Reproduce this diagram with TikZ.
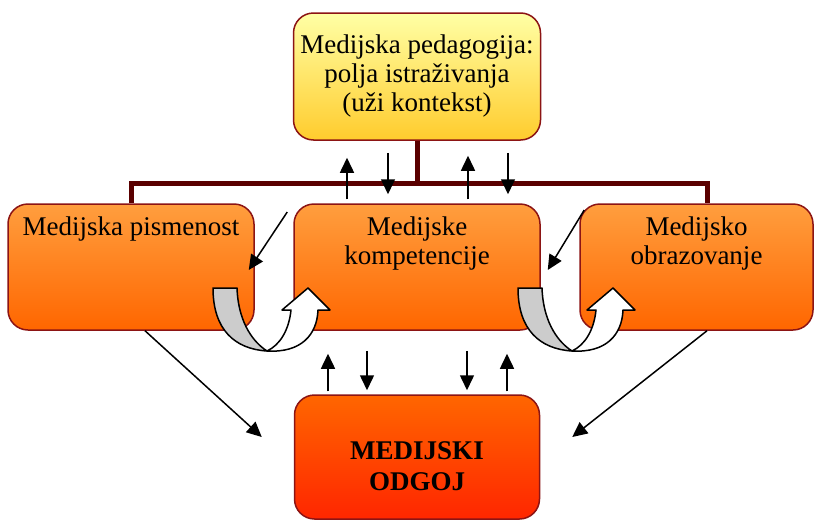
\documentclass[tikz,border=0pt]{standalone}
\usepackage{fontspec}
\setmainfont{Liberation Serif}
\usetikzlibrary{positioning, arrows.meta}

\definecolor{rub}{RGB}{140,20,20}
\definecolor{bordo}{RGB}{90,0,0}
\definecolor{narTop}{RGB}{255,158,62}
\definecolor{narBot}{RGB}{255,102,0}
\definecolor{crvBot}{RGB}{255,38,0}
\definecolor{zutTop}{RGB}{255,255,165}
\definecolor{zutBot}{RGB}{255,204,45}

\tikzset{
  uturn/.pic={
    \filldraw[fill=gray!40] (0,0) -- (24,0) .. controls (25,30) and (37,52) .. (54,63)
      .. controls (22,61) and (0,42) .. cycle;
    \filldraw[fill=white] (54,63) .. controls (88,65) and (104,47) .. (105,22) -- (117,22)
      -- (95,0) -- (69,22) -- (78,22) .. controls (76,42) and (67,57) .. (54,63) -- cycle;
  }
}

\begin{document}
\begin{tikzpicture}[x=0.5pt, y=-0.5pt, on grid,
    font=\fontsize{13.5}{14.5}\selectfont,
    kutija/.style={draw=rub, line width=0.75pt, rounded corners=10pt, align=center},
    srednja/.style={kutija, top color=narTop, bottom color=narBot, minimum width=123pt, minimum height=63pt},
    natpis/.style={anchor=north, inner sep=0pt, yshift=-6.5pt, align=center},
    spona/.style={draw=bordo, line width=2.5pt},
    strelica/.style={-{Triangle[length=7.5pt,width=7pt]}, line width=0.75pt},
    okret/.style={line width=0.75pt, line join=round}]

    \useasboundingbox (0,0) rectangle (814,520);

    % Kutije
    \node[srednja, label={[natpis]north:{Medijske\\kompetencije}}] (komp) at (417,267) {};
    \node[srednja, left=143pt of komp, label={[natpis]north:Medijska pismenost}] (pis) {};
    \node[srednja, minimum width=116.5pt, right=139.75pt of komp,
          label={[natpis]north:{Medijsko\\obrazovanje}}] (obr) {};
    \node[kutija, top color=zutTop, bottom color=zutBot, minimum width=123.5pt, minimum height=63.5pt,
          above=95.25pt of komp] (ped) {Medijska pedagogija:\\polja istraživanja\\(uži kontekst)};
    \node[kutija, top color=narBot, bottom color=crvBot, minimum width=122.5pt, minimum height=62pt,
          below=95pt of komp,
          label={[align=center, yshift=-4.5pt, font=\fontsize{13.5}{15.5}\selectfont\bfseries]center:{MEDIJSKI\\ODGOJ}}] (odg) {};

    % Spona
    \draw[spona] (ped.south) -- ++(0,43) coordinate (cvor);
    \draw[spona] (pis.north) |- (cvor) -| ([xshift=5.25pt]obr.north);

    % Strelice gore
    \draw[strelica, shorten <=2pt, shorten >=8.5pt] ([xshift=-35pt]komp.north) -- ([xshift=-35pt]ped.south);
    \draw[strelica, shorten <=6pt, shorten >=4.5pt] ([xshift=-14.5pt]ped.south) -- ([xshift=-14.5pt]komp.north);
    \draw[strelica, shorten <=2pt, shorten >=7.5pt] ([xshift=25.5pt]komp.north) -- ([xshift=25.5pt]ped.south);
    \draw[strelica, shorten <=6pt, shorten >=4.5pt] ([xshift=45.5pt]ped.south) -- ([xshift=45.5pt]komp.north);

    % Strelice dolje
    \draw[strelica, shorten <=1.5pt, shorten >=11.5pt] ([xshift=-44.5pt]odg.north) -- ([xshift=-44.5pt]komp.south);
    \draw[strelica, shorten <=10pt, shorten >=2pt] ([xshift=-25pt]komp.south) -- ([xshift=-25pt]odg.north);
    \draw[strelica, shorten <=10pt, shorten >=2pt] ([xshift=25pt]komp.south) -- ([xshift=25pt]odg.north);
    \draw[strelica, shorten <=1.5pt, shorten >=11.5pt] ([xshift=45pt]odg.north) -- ([xshift=45pt]komp.south);

    % Kose strelice
    \draw[strelica] ([xshift=7pt]pis.south) -- ([xshift=-16pt,yshift=10pt]odg.west);
    \draw[strelica] ([xshift=5.25pt]obr.south) -- ([xshift=16pt,yshift=10pt]odg.east);
    \draw[strelica] ([xshift=-3pt,yshift=27.5pt]komp.west) -- ([xshift=-3pt,yshift=-1.5pt]pis.east);
    \draw[strelica] ([xshift=2.5pt,yshift=28.5pt]obr.west) -- ([xshift=3.5pt,yshift=-1.5pt]komp.east);

    % Okretne strelice
    \pic[okret] at (213,288) {uturn};
    \begin{scope}[shift={(518,288)}, xscale=0.87]
        \pic[okret] at (0,0) {uturn};
    \end{scope}

\end{tikzpicture}
\end{document}
